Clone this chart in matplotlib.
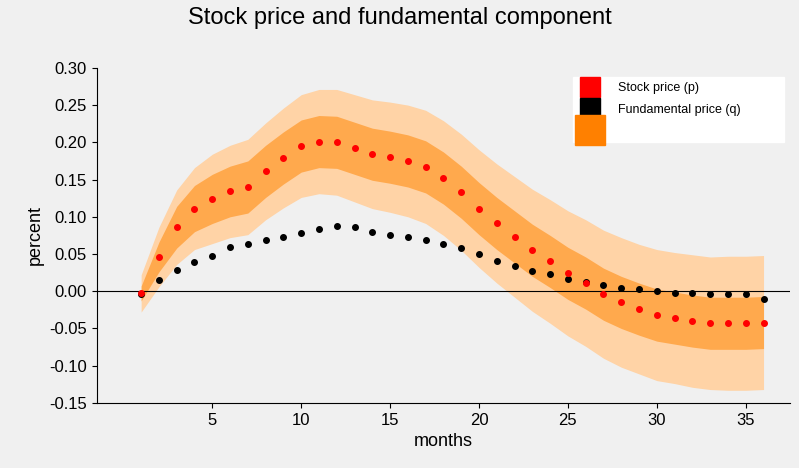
import numpy as np
import matplotlib.pyplot as plt
from matplotlib.lines import Line2D

plt.rcParams['font.family'] = ['Liberation Sans', 'DejaVu Sans']

months = np.arange(1, 37)
stock_price = [-0.003, 0.046, 0.086, 0.111, 0.124, 0.134, 0.140, 0.161, 0.179, 0.195,
               0.201, 0.200, 0.192, 0.184, 0.180, 0.175, 0.167, 0.152, 0.133, 0.111,
               0.091, 0.073, 0.055, 0.040, 0.024, 0.011, -0.004, -0.015, -0.024, -0.032,
               -0.036, -0.040, -0.043, -0.043, -0.043, -0.042]
fundamental = [-0.004, 0.015, 0.028, 0.039, 0.047, 0.060, 0.063, 0.069, 0.073, 0.078,
               0.083, 0.087, 0.086, 0.079, 0.075, 0.073, 0.069, 0.064, 0.058, 0.050,
               0.040, 0.034, 0.027, 0.023, 0.017, 0.013, 0.008, 0.005, 0.003, 0.000,
               -0.003, -0.003, -0.004, -0.004, -0.004, -0.011]
inner_half = [0.010, 0.020, 0.028, 0.031, 0.033, 0.034, 0.035, 0.035, 0.035, 0.035,
              0.035, 0.035, 0.035, 0.035, 0.035, 0.035, 0.035, 0.035, 0.035, 0.035,
              0.035, 0.035, 0.035, 0.035, 0.035, 0.035, 0.035, 0.035, 0.035, 0.035,
              0.035, 0.035, 0.035, 0.035, 0.035, 0.035]
outer_half = [0.025, 0.040, 0.050, 0.055, 0.060, 0.062, 0.064, 0.065, 0.067, 0.069,
              0.070, 0.071, 0.072, 0.073, 0.074, 0.075, 0.076, 0.077, 0.078, 0.079,
              0.080, 0.081, 0.082, 0.083, 0.084, 0.085, 0.086, 0.087, 0.087, 0.088,
              0.088, 0.089, 0.089, 0.090, 0.090, 0.090]

p = np.array(stock_price)
ih = np.array(inner_half)
oh = np.array(outer_half)

bg = '#f0f0f0'
fig = plt.figure(figsize=(7.99, 4.68), dpi=100, facecolor=bg)
ax = fig.add_axes([0.121, 0.139, 0.868, 0.716], facecolor=bg)

ax.fill_between(months, p - oh, p + oh, color='#ffd3a6', lw=0)
ax.fill_between(months, p - ih, p + ih, color='#ffa94d', lw=0)
ax.axhline(0, color='black', lw=0.8)
ax.scatter(months, fundamental, color='black', s=16, zorder=3)
ax.scatter(months, stock_price, color='red', s=16, zorder=3)

ax.set_xlim(-1.5, 37.5)
ax.set_ylim(-0.15, 0.30)
ax.set_xticks([5, 10, 15, 20, 25, 30, 35])
ax.set_yticks(np.arange(-0.15, 0.301, 0.05))
ax.yaxis.set_major_formatter(plt.FuncFormatter(lambda v, _: f'{v:.2f}'))
ax.tick_params(labelsize=12, direction='out')
for s in ['top', 'right']:
    ax.spines[s].set_visible(False)

ax.set_xlabel('months', fontsize=13)
ax.set_ylabel('percent', fontsize=13)
fig.suptitle('Stock price and fundamental component', fontsize=17, y=0.985)

handles = [Line2D([], [], marker='s', ls='', color='red', markersize=14),
           Line2D([], [], marker='s', ls='', color='black', markersize=14),
           Line2D([], [], marker='s', ls='', color='#ff8000', markersize=22)]
leg = ax.legend(handles, ['Stock price (p)', 'Fundamental price (q)           ', ''],
                loc='upper right', fontsize=9, frameon=True, fancybox=False,
                edgecolor='white', framealpha=1, borderpad=0.4, labelspacing=0.75,
                handletextpad=1.2, bbox_to_anchor=(1.0, 0.99))

fig.savefig('out.png', dpi=100, facecolor=bg)
